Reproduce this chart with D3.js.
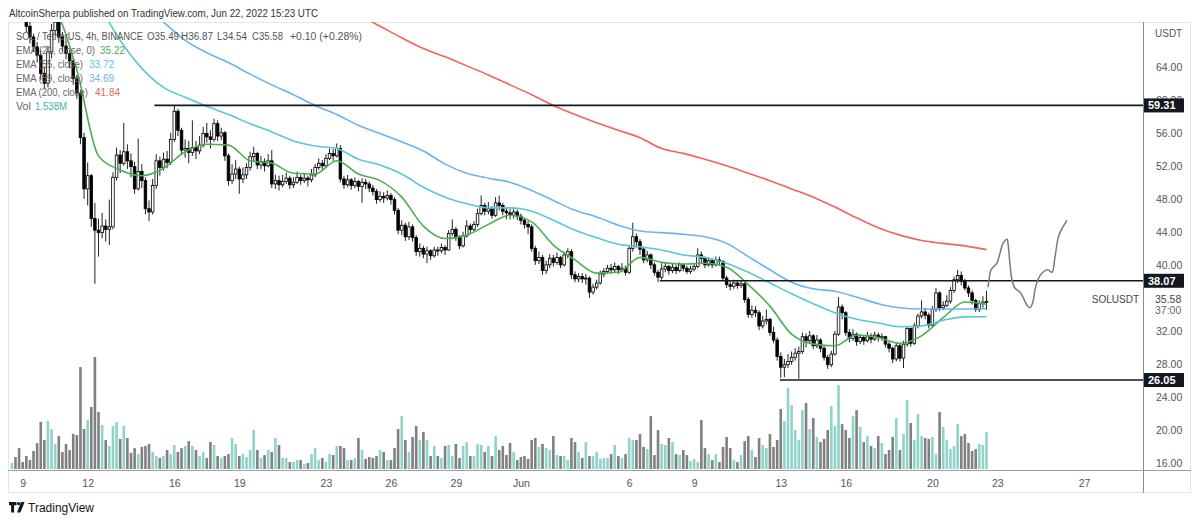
<!DOCTYPE html>
<html>
<head>
<meta charset="utf-8">
<script src="https://cdn.jsdelivr.net/npm/d3@7"></script>
<style>
  body { margin: 0; background: #fff; }
  svg { display: block; }
  text { font-family: "Liberation Sans", Arial, sans-serif; }
</style>
</head>
<body>
<div id="chart"></div>
<script>
// ---- data (SOL/USDT 4h, Binance) ----
const firstCandle = "2022-05-08T12:00:00Z";
const firstOpen = 73.0;

const closes = [
  74.0,72.6,71.0,70.2,68.9,67.6,66.4,65.4,63.2,62.0,
  65.8,68.4,69.4,67.6,66.5,65.6,64.7,62.6,60.8,55.4,
  49.2,50.8,45.6,44.2,43.9,44.7,44.3,44.6,50.6,53.3,
  52.3,53.7,52.6,51.9,49.2,51.3,50.2,46.8,46.4,49.6,
  52.6,51.8,52.8,52.4,55.2,58.6,56.3,53.9,54.1,53.6,
  54.2,53.8,54.5,55.9,55.5,55.2,57.1,55.6,56.0,53.2,
  50.2,51.0,51.6,50.4,50.9,51.8,53.1,53.5,52.1,52.5,
  52.0,52.6,49.8,50.2,49.7,50.1,50.5,49.7,50.0,50.6,
  50.2,50.5,50.3,50.9,51.8,52.3,52.0,52.9,53.5,53.2,
  54.1,50.4,49.7,50.3,49.6,50.1,49.5,50.0,49.8,49.3,
  48.9,47.9,48.3,48.1,48.4,47.9,46.6,44.2,44.8,43.4,
  44.6,43.3,41.6,42.0,41.3,41.7,41.1,41.8,41.7,42.1,
  41.8,43.8,44.3,43.4,42.3,43.5,44.7,44.3,44.9,46.2,
  47.2,46.5,46.8,46.0,47.5,47.2,46.5,46.3,46.0,46.4,
  45.9,45.4,44.9,44.6,42.0,40.5,40.9,39.3,40.0,40.8,
  40.3,40.9,40.0,41.2,41.6,38.8,38.3,38.6,38.3,38.4,
  36.7,37.3,37.8,38.9,39.2,39.6,39.4,39.8,39.4,39.6,
  39.1,42.0,43.4,42.8,41.9,40.6,41.2,40.0,39.1,38.5,
  39.5,39.8,39.3,39.7,39.3,40.0,39.6,39.2,39.5,39.8,
  41.2,40.8,40.0,40.5,40.0,40.6,40.4,38.4,37.6,37.4,
  37.8,37.5,37.7,35.8,34.0,34.5,34.2,32.6,33.2,33.4,
  31.8,30.9,28.9,27.6,27.9,28.3,28.8,29.3,29.5,31.3,
  30.8,31.4,30.2,30.9,29.9,28.8,27.9,29.2,31.6,34.9,
  34.2,31.8,31.1,31.6,30.7,31.2,30.8,31.4,31.0,31.5,
  31.2,31.3,30.4,29.9,28.6,30.2,28.7,30.4,32.3,30.5,
  32.6,33.8,34.3,33.9,32.7,34.6,36.6,34.8,35.1,35.6,
  36.9,38.2,38.7,38.0,37.2,36.6,35.7,34.6,35.3,35.49,
  35.58
];

const highs = [
  75.5,74.5,73.0,71.6,70.8,69.5,68.0,67.0,66.0,64.0,
  66.5,69.2,70.6,69.8,68.2,67.2,66.0,65.1,63.0,61.2,
  56.0,52.4,51.0,47.5,45.6,46.3,45.5,47.9,51.2,54.2,
  53.9,57.2,54.6,53.5,52.5,55.3,52.2,50.6,47.8,50.4,
  53.4,53.1,53.6,53.8,56.0,59.3,58.9,56.6,55.2,55.0,
  57.5,55.0,55.6,56.7,57.2,56.3,57.7,57.5,56.6,56.2,
  53.5,52.2,52.7,51.9,51.8,52.3,53.7,54.3,53.7,53.2,
  52.9,53.4,53.9,50.9,50.8,50.9,51.2,50.8,50.6,51.3,
  50.9,51.0,50.8,51.6,52.2,52.9,52.7,53.4,54.1,54.0,
  54.7,54.5,50.8,50.9,50.5,50.6,50.3,50.5,50.4,50.1,
  49.7,49.2,48.9,48.8,49.0,48.7,48.2,46.9,45.4,45.1,
  45.2,44.9,43.6,42.6,42.3,42.2,41.9,42.2,42.2,42.6,
  42.4,44.2,45.5,44.6,43.6,44.0,45.4,45.0,45.3,46.8,
  48.4,47.5,47.6,47.1,48.2,48.4,47.5,47.0,46.8,46.9,
  46.7,46.2,45.7,45.3,44.9,42.3,41.6,41.2,40.5,41.3,
  41.2,41.5,41.1,41.6,42.0,41.9,39.2,39.0,39.0,38.9,
  38.6,37.7,38.2,39.3,39.6,40.0,40.1,40.3,40.0,40.2,
  39.9,42.4,45.1,43.8,43.1,42.2,41.7,41.4,40.3,39.4,
  40.2,40.3,40.0,40.2,40.0,40.3,40.2,39.9,39.9,40.2,
  42.0,41.6,41.0,40.9,40.8,41.0,41.0,40.6,38.7,38.0,
  38.2,38.1,38.1,37.9,36.1,35.1,35.0,34.5,33.8,34.6,
  33.6,32.5,31.2,29.4,28.6,29.2,29.5,29.9,30.1,31.8,
  31.7,32.0,31.6,31.5,31.1,30.2,29.1,29.6,32.0,36.1,
  35.2,34.4,32.2,32.2,31.8,31.6,31.5,31.9,31.7,31.9,
  31.8,31.7,31.4,30.7,30.1,30.6,30.4,30.8,32.6,32.4,
  33.0,34.1,35.7,34.8,34.2,35.0,37.2,36.8,35.6,36.3,
  37.3,38.6,39.4,39.2,38.3,37.5,36.9,35.9,35.7,36.2,
  36.87
];

const lows = [
  72.5,72.0,70.4,69.5,68.2,66.8,65.9,64.5,62.4,61.4,
  61.5,65.0,67.8,66.9,65.8,64.9,63.8,61.8,60.1,54.6,
  48.0,47.2,44.6,37.7,41.0,43.2,42.8,42.4,44.3,50.2,
  51.1,52.0,51.6,50.6,48.6,49.0,49.3,46.1,45.3,46.1,
  49.2,50.8,51.4,51.7,52.1,54.9,55.6,53.3,53.0,52.3,
  53.2,52.8,53.4,54.2,54.8,54.1,54.9,55.0,55.1,52.6,
  49.6,49.8,50.4,48.6,49.9,50.4,51.4,52.5,51.6,51.6,
  51.3,51.8,49.3,49.2,49.0,49.4,49.8,49.2,49.3,49.8,
  49.7,49.9,49.5,50.0,50.6,51.5,51.4,51.8,52.7,52.6,
  53.0,50.0,49.2,49.4,49.1,49.3,48.9,47.5,49.2,48.8,
  48.4,47.4,47.6,47.5,47.8,47.3,46.1,43.7,43.6,42.9,
  43.0,42.8,41.1,41.0,40.8,40.2,40.6,40.9,41.1,41.4,
  41.2,41.7,43.5,42.9,41.9,42.1,43.3,43.8,44.0,44.6,
  46.0,46.0,46.1,45.6,45.8,46.6,46.0,45.5,45.5,45.6,
  45.4,44.9,44.4,43.7,41.6,40.0,40.1,38.8,38.9,39.6,
  39.8,40.0,39.6,39.8,40.8,38.3,37.9,37.9,37.8,37.6,
  36.0,36.4,37.0,37.6,38.5,38.9,38.9,39.0,38.9,39.1,
  38.7,38.9,41.6,42.1,41.2,40.2,40.3,39.5,38.7,37.9,
  38.2,39.1,38.8,39.0,38.9,39.1,39.2,38.9,38.9,39.2,
  39.6,40.1,39.6,39.8,39.6,39.8,39.9,38.0,37.2,36.9,
  37.1,37.1,37.2,35.4,33.6,33.6,33.7,32.1,32.3,32.8,
  31.4,30.5,28.4,26.3,26.4,27.5,27.9,28.4,26.2,29.2,
  30.0,30.4,29.8,29.9,29.4,28.4,27.4,27.6,29.0,31.4,
  33.4,31.4,30.6,30.8,30.2,30.4,30.3,30.6,30.5,30.8,
  30.7,30.8,30.0,29.4,28.1,28.3,28.3,27.5,30.1,30.1,
  30.3,32.3,33.5,33.4,32.3,32.5,34.3,34.4,34.5,34.9,
  35.3,36.6,37.8,37.5,36.9,36.1,35.2,34.3,34.3,34.8,
  34.54
];

// volume, millions of SOL
const volume = [
  .25,.50,.87,.29,.54,.37,.75,1.08,1.96,1.21,
  2.00,1.66,1.04,1.37,.71,1.04,.79,1.46,1.41,4.24,
  1.66,2.04,2.58,4.66,2.37,1.83,1.21,.96,1.79,1.96,
  1.25,1.79,1.29,.67,.87,.62,.92,.96,1.04,.71,
  .54,.46,.54,.79,.62,1.00,.71,.87,.96,1.16,
  .96,.79,.54,.71,.46,1.12,1.00,.54,.46,.54,
  .62,1.29,1.04,.54,.62,.50,.79,1.62,.79,.46,
  .58,.79,.71,1.29,1.00,.46,.46,.29,.29,.37,
  .37,.21,.25,.62,.87,.37,.46,.29,.62,.58,
  .96,.96,.87,.37,.37,.46,1.29,.79,.42,.50,
  .46,.54,.79,.71,.37,.37,.87,1.66,2.20,1.21,
  .71,1.33,1.79,1.21,1.54,1.21,.54,.96,.54,.46,
  .96,1.00,.54,1.04,.46,.96,1.12,.54,.54,1.04,
  1.00,.71,.96,.54,1.37,.79,
  .96,.58,1.08,.71,.37,.50,.54,.42,1.21,1.29,
  .92,1.04,.87,.79,1.37,.58,.54,.54,.37,1.29,
  1.12,.71,.46,1.12,.54,.54,.71,.42,.46,.46,
  .62,1.00,.54,.46,.62,1.29,1.21,1.21,1.46,.92,
  .83,2.20,.58,1.62,1.04,1.00,1.29,1.12,.62,.58,
  .79,.58,.33,.42,.29,2.04,.87,.62,.37,.62,
  .29,.92,1.33,.87,.37,.29,.58,1.16,1.37,.79,
  .50,1.29,1.00,.87,1.46,.92,1.21,2.50,2.00,3.37,
  2.66,1.62,1.21,2.45,2.75,1.66,2.12,1.33,1.12,1.25,
  1.62,2.62,1.79,3.49,1.87,1.62,1.29,2.20,2.45,1.75,
  1.12,1.37,.96,.87,1.37,1.08,.62,.79,1.33,2.12,
  .79,1.46,2.87,1.91,1.21,2.29,1.37,1.29,1.25,1.33,
  .62,2.37,1.75,1.21,.83,.96,1.87,1.37,1.46,1.08,
  .75,.83,1.04,1.00,1.538
];

// EMA values, one per day (every 6th candle)
const emaFast = [73.5,72.5,70.8,63.6,53.2,51.5,50.8,51.7,53.7,54.6,54.5,52.6,52.3,51.1,51.0,52.6,51.0,50.2,48.2,44.7,43.2,43.6,44.9,46.0,45.2,42.4,40.6,39.0,39.1,40.9,40.3,40.1,40.2,39.7,37.6,35.0,31.6,30.4,30.2,31.5,31.2,30.5,31.4,33.6,35.5,35.22];
const ema55 = [82,80.5,78.5,76,71.6,67.2,63.8,61.5,60.3,59.2,58.2,57.1,56.1,55.0,54.4,54.1,52.8,52.1,51.0,49.4,48.2,47.4,46.9,46.9,46.5,45.4,44.2,43.3,42.5,42.2,41.8,41.2,40.9,40.2,39.1,37.8,36.5,35.3,34.2,33.4,32.96,32.5,32.6,33.3,33.7,33.72];
const ema89 = [86,84.5,82.5,80,77,74.4,71.9,69.4,67.2,65.7,64.5,63.1,61.8,60.6,59.3,58.2,56.9,55.9,54.9,53.8,52.2,51.1,50.5,50.0,49.0,47.8,46.6,45.8,44.8,44.1,43.9,43.7,43.4,42.6,41.0,39.4,37.9,37.1,36.8,36.1,35.3,34.8,34.65,34.65,34.66,34.69];
const ema200 = [92.6,91.2,89.8,88.4,87.0,85.6,84.2,82.8,81.4,80.0,78.6,77.2,75.8,74.4,73.0,71.7,70.3,68.9,67.5,66.2,65.2,64.1,63.0,61.8,60.6,59.3,58.2,57.2,56.3,55.4,54.1,53.5,52.8,52.0,51.1,50.2,49.2,48.2,47.0,45.7,44.5,43.6,42.95,42.6,42.3,41.84];

// horizontal levels and where they start
const levels = [59.31, 38.07, 26.05];
const levelFrom = ["2022-05-15T02:00:00Z", "2022-06-07T10:00:00Z", "2022-06-12T23:00:00Z"];

// hand drawn projection: hours after Jun 22 00:00 UTC, price
const projHours = [13.7,17.0,19.2,23.5,26.9,30.2,34.8,35.8,37.9,40.1,43.4,49.0,52.3,56.9,60.0,63.4,65.5,68.9,74.4,79.9,84.5,87.8,91.2,93.4,96.7,101.0];
const projPrice = [37.3,39.4,39.7,40.2,41.4,42.6,43.1,42.6,40.2,38.2,37.2,36.7,36.1,35.1,34.8,35.5,36.9,38.2,39.1,39.4,39.1,40.9,43.2,43.9,44.6,45.4];

const priceTicks = [64, 60, 56, 52, 48, 44, 40, 32, 28, 24, 20, 16];
const timeTicks = ["2022-05-09","2022-05-12","2022-05-16","2022-05-19","2022-05-23","2022-05-26","2022-05-29",
                   "2022-06-01","2022-06-06","2022-06-09","2022-06-13","2022-06-16","2022-06-20","2022-06-23","2022-06-27"];

const legendHead = ["SOL / TetherUS, 4h, BINANCE", "O35.49", "H36.87", "L34.54", "C35.58", "+0.10 (+0.28%)"];
const emaLabels = ["EMA (21, close, 0)", "EMA (55, close)", "EMA (89, close)", "EMA (200, close)"];
const emaLast = ["35.22", "33.72", "34.69", "41.84"];

// ---- layout ----
const W = 1200, H = 522;
const pane = {left: 8, right: 1143, top: 22, bottom: 470};
const FOUR_H = 4 * 3600 * 1000;
const t0 = new Date(firstCandle).getTime();

const candles = closes.map((c, i) => ({
  t: new Date(t0 + i * FOUR_H),
  o: i ? closes[i - 1] : firstOpen,
  h: highs[i], l: lows[i], c: c, v: volume[i]
}));

const svg = d3.select("#chart").append("svg")
  .attr("width", W).attr("height", H);

const x = d3.scaleUtc()
  .domain([new Date("2022-05-09T00:00:00Z"), new Date("2022-06-27T00:00:00Z")])
  .range([22.7, 1084]);
const y = d3.scaleLinear().domain([16, 64]).range([463, 66.7]);
const yVol = d3.scaleLinear().domain([0, d3.max(volume)]).range([469, 357]);

// squeeze a text into the width it takes in the screenshot
function fit(sel, w) {
  return sel.attr("textLength", w).attr("lengthAdjust", "spacingAndGlyphs");
}

// header
fit(svg.append("text")
  .attr("x", 9).attr("y", 17)
  .attr("font-size", 11.5).attr("fill", "#333")
  .text("AltcoinSherpa published on TradingView.com, Jun 22, 2022 15:23 UTC"), 309);

// frame
svg.append("rect")
  .attr("x", 8.5).attr("y", 22.5).attr("width", 1182).attr("height", 470)
  .attr("fill", "none").attr("stroke", "#e6e6e6");

svg.append("defs").append("clipPath").attr("id", "pane")
  .append("rect")
  .attr("x", pane.left).attr("y", pane.top)
  .attr("width", pane.right - pane.left).attr("height", pane.bottom - pane.top);

const g = svg.append("g").attr("clip-path", "url(#pane)");

// volume
const bw = 2.6;
g.selectAll("rect.vol")
  .data(candles)
  .enter()
  .append("rect")
    .attr("class", "vol")
    .attr("x", d => x(d.t) - bw / 2)
    .attr("y", d => yVol(d.v))
    .attr("width", bw)
    .attr("height", d => yVol(0) - yVol(d.v))
    .attr("fill", d => d.c >= d.o ? "#8fd3ca" : "#808080");

// candles
const cg = g.selectAll("g.candle")
  .data(candles)
  .enter()
  .append("g");

cg.append("line")
  .attr("x1", d => x(d.t)).attr("x2", d => x(d.t))
  .attr("y1", d => y(d.h)).attr("y2", d => y(d.l))
  .attr("stroke", "#222").attr("stroke-width", 1);

cg.append("rect")
  .attr("x", d => x(d.t) - bw / 2)
  .attr("y", d => y(Math.max(d.o, d.c)))
  .attr("width", bw)
  .attr("height", d => Math.max(1, Math.abs(y(d.o) - y(d.c))))
  .attr("fill", d => d.c >= d.o ? "#fff" : "#000")
  .attr("stroke", "#000")
  .attr("stroke-width", 0.8);

// EMA lines
const emaColors = ["#4caf50", "#56c8d8", "#6db3ee", "#f0645a"];
const emaSeries = [emaFast, ema55, ema89, ema200];
const line = d3.line()
  .x(d => x(d.t))
  .y(d => y(d.v))
  .curve(d3.curveMonotoneX);

emaSeries.forEach((s, k) => {
  const pts = s.map((v, j) => ({t: candles[j * 6].t, v: v}));
  g.append("path")
    .datum(pts)
    .attr("d", line)
    .attr("fill", "none")
    .attr("stroke", emaColors[k])
    .attr("stroke-width", 1.6);
});

// horizontal levels
levels.forEach((lv, k) => {
  g.append("line")
    .attr("x1", x(new Date(levelFrom[k]))).attr("x2", pane.right)
    .attr("y1", y(lv)).attr("y2", y(lv))
    .attr("stroke", "#131722").attr("stroke-width", 1.6);
});

// projection
const jun22 = new Date("2022-06-22T00:00:00Z").getTime();
const proj = projHours.map((h, i) => ({t: new Date(jun22 + h * 3600e3), v: projPrice[i]}));
g.append("path")
  .datum(proj)
  .attr("d", d3.line().x(d => x(d.t)).y(d => y(d.v)).curve(d3.curveCatmullRom))
  .attr("fill", "none")
  .attr("stroke", "#7a7a7a")
  .attr("stroke-width", 1.5);

// legend
const lg = svg.append("g").attr("font-size", 10);
const headX = [16, 147, 181, 217, 252, 290];
const headW = [127, 32, 32, 30, 31, 72];
legendHead.forEach((t, k) => {
  fit(lg.append("text").attr("x", headX[k]).attr("y", 39.5).attr("fill", "#555").text(t), headW[k]);
});
const labW = [79, 67, 67, 72];
const valX = [100, 89, 89, 95];
emaLabels.forEach((t, k) => {
  const yy = 54 + k * 13.9;
  fit(lg.append("text").attr("x", 16).attr("y", yy).attr("fill", "#666").text(t), labW[k]);
  fit(lg.append("text").attr("x", valX[k]).attr("y", yy).attr("fill", emaColors[k]).text(emaLast[k]), 25);
});
fit(lg.append("text").attr("x", 16).attr("y", 109.5).attr("fill", "#666").text("Vol"), 15);
fit(lg.append("text").attr("x", 35).attr("y", 109.5).attr("fill", "#3fb3a6").text("1.538M"), 32);

// price axis
svg.append("line")
  .attr("x1", pane.right + 0.5).attr("x2", pane.right + 0.5)
  .attr("y1", 22).attr("y2", 493)
  .attr("stroke", "#8a8a8a");

svg.append("g")
  .attr("transform", "translate(" + (pane.right + 10) + ",0)")
  .call(d3.axisRight(y).tickValues(priceTicks).tickFormat(d3.format(".2f")).tickSize(0))
  .call(a => a.select(".domain").remove())
  .selectAll("text")
    .attr("font-size", 10.5).attr("fill", "#555")
    .attr("font-family", "Liberation Sans, Arial, sans-serif");

svg.append("text").attr("x", pane.right + 12).attr("y", 37)
  .attr("font-size", 10).attr("fill", "#555").text("USDT");

levels.forEach(lv => {
  svg.append("rect")
    .attr("x", pane.right + 1).attr("y", y(lv) - 7)
    .attr("width", 40).attr("height", 14)
    .attr("fill", "#131722");
  svg.append("text")
    .attr("x", pane.right + 5).attr("y", y(lv) + 4)
    .attr("font-size", 11).attr("font-weight", "bold").attr("fill", "#fff")
    .text(lv.toFixed(2));
});

const last = closes[closes.length - 1];
svg.append("text").attr("x", pane.right - 4).attr("y", y(last) + 2)
  .attr("text-anchor", "end").attr("font-size", 10).attr("fill", "#444").text("SOLUSDT");
svg.append("rect").attr("x", pane.right + 1).attr("y", y(last) - 8)
  .attr("width", 40).attr("height", 24).attr("fill", "#fff");
svg.append("text").attr("x", pane.right + 12).attr("y", y(last) + 2)
  .attr("font-size", 10.5).attr("fill", "#444").text(last.toFixed(2));
svg.append("text").attr("x", pane.right + 12).attr("y", y(last) + 13)
  .attr("font-size", 10.5).attr("fill", "#666").text("37:00");

// time axis
svg.append("line")
  .attr("x1", 8).attr("x2", 1191)
  .attr("y1", pane.bottom + 0.5).attr("y2", pane.bottom + 0.5)
  .attr("stroke", "#a0a0a0");

const fmt = d => d.getUTCDate() === 1 ? d3.utcFormat("%b")(d) : String(d.getUTCDate());
svg.append("g")
  .attr("transform", "translate(0," + pane.bottom + ")")
  .call(d3.axisBottom(x).tickValues(timeTicks.map(s => new Date(s + "T00:00:00Z"))).tickFormat(fmt).tickSize(0))
  .call(a => a.select(".domain").remove())
  .selectAll("text")
    .attr("dy", "1.35em")
    .attr("font-size", 10.5).attr("fill", "#555")
    .attr("font-family", "Liberation Sans, Arial, sans-serif");

// footer logo
const logo = svg.append("g").attr("fill", "#131722");
logo.append("path").attr("d", "M9 502h7.5v3.2h-2.4v7.3h-3v-7.3H9z");
logo.append("circle").attr("cx", 18.6).attr("cy", 503.6).attr("r", 1.6);
logo.append("path").attr("d", "M21 502h3.6l-4.2 10.5h-3.4z");
svg.append("text").attr("x", 28).attr("y", 512)
  .attr("font-size", 12).attr("fill", "#131722").text("TradingView");
</script>
</body>
</html>
